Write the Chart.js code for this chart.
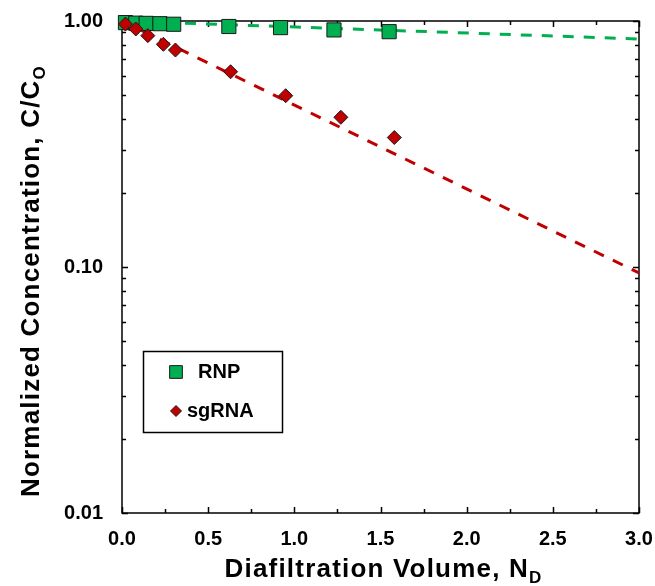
<!DOCTYPE html>
<html>
<head>
<meta charset="utf-8">
<script src="https://cdn.jsdelivr.net/npm/chart.js@4.4.3/dist/chart.umd.min.js"></script>
<style>
    html, body { margin: 0; padding: 0; background: #fff; }
    #wrap { position: relative; width: 655px; height: 586px; }
</style>
</head>
<body>
<div id="wrap"><canvas id="chart" width="655" height="586"></canvas></div>
<script>
const rnpVolume = [0.02, 0.08, 0.14, 0.22, 0.30, 0.62, 0.92, 1.23, 1.55];
const rnpConc = [0.985, 0.98, 0.978, 0.975, 0.97, 0.95, 0.94, 0.92, 0.905];
const sgVolume = [0.02, 0.08, 0.15, 0.24, 0.31, 0.63, 0.95, 1.27, 1.58];
const sgConc = [0.972, 0.928, 0.872, 0.804, 0.762, 0.622, 0.497, 0.406, 0.336];

// fitted first-order lines (straight on the log axis)
const rnpFitVolume = [0, 3];
const rnpFitConc = [1.0, 0.845];
const sgFitVolume = [0, 3];
const sgFitConc = [1.0, 0.0946];

const xTickValues = [0, 0.5, 1, 1.5, 2, 2.5, 3];
const yTickValues = [0.01, 0.1, 1];

const FONT = "'Liberation Sans', Arial, sans-serif";
const GREEN = '#00B050';
const RED = '#C00000';

const toPoints = (xs, ys) => xs.map((v, i) => ({x: v, y: ys[i]}));

// draws text + smaller lowered subscript, centred on 0
function drawSubText(ctx, main, sub, y0) {
    ctx.font = `bold 26px ${FONT}`;
    ctx.letterSpacing = '1.2px';
    const mw = ctx.measureText(main).width;
    ctx.font = `bold 17px ${FONT}`;
    const sw = ctx.measureText(sub).width;
    const start = -(mw + sw) / 2;
    ctx.font = `bold 26px ${FONT}`;
    ctx.fillText(main, start, y0);
    ctx.font = `bold 17px ${FONT}`;
    ctx.fillText(sub, start + mw, y0 + 6);
    ctx.letterSpacing = '0px';
}

// box, inward ticks, axis titles, legend
const framePlugin = {
    id: 'frame',
    beforeDatasetsDraw(chart) {
        const {ctx, chartArea: a, scales: {x, y}} = chart;
        ctx.save();
        ctx.strokeStyle = '#000';
        ctx.lineWidth = 1.5;
        ctx.strokeRect(a.left, a.top, a.right - a.left, a.bottom - a.top);

        ctx.beginPath();
        for (let i = 0; i <= 12; i++) {
            const px = Math.round(x.getPixelForValue(i * 0.25)) + 0.5;
            const len = i % 2 === 0 ? 6 : 4;
            ctx.moveTo(px, a.bottom); ctx.lineTo(px, a.bottom - len);
            ctx.moveTo(px, a.top); ctx.lineTo(px, a.top + len);
        }
        [0.01, 0.1].forEach(decade => {
            for (let m = 1; m <= 10; m++) {
                const py = Math.round(y.getPixelForValue(decade * m)) + 0.5;
                const len = (m === 1 || m === 10) ? 6 : 4;
                ctx.moveTo(a.left, py); ctx.lineTo(a.left + len, py);
                ctx.moveTo(a.right, py); ctx.lineTo(a.right - len, py);
            }
        });
        ctx.stroke();
        ctx.restore();
    },
    afterDraw(chart) {
        const {ctx, chartArea: a} = chart;
        ctx.save();
        ctx.fillStyle = '#000';
        ctx.textBaseline = 'alphabetic';

        ctx.translate((a.left + a.right) / 2 + 3, 0);
        drawSubText(ctx, 'Diafiltration Volume, N', 'D', 577);
        ctx.setTransform(1, 0, 0, 1, 0, 0);

        ctx.translate(39, 281);
        ctx.rotate(-Math.PI / 2);
        drawSubText(ctx, 'Normalized Concentration, C/C', 'O', 0);
        ctx.setTransform(1, 0, 0, 1, 0, 0);

        // legend
        ctx.fillStyle = '#fff';
        ctx.fillRect(143, 351, 139, 81);
        ctx.strokeStyle = '#000';
        ctx.lineWidth = 1.5;
        ctx.strokeRect(143.5, 351.5, 139, 81);

        ctx.strokeStyle = '#1a1a1a';
        ctx.lineWidth = 1;
        ctx.fillStyle = GREEN;
        Chart.helpers.drawPoint(ctx, {pointStyle: 'rect', radius: 9, borderWidth: 1}, 176, 372);
        ctx.fillStyle = RED;
        Chart.helpers.drawPoint(ctx, {pointStyle: 'rectRot', radius: 5.5, borderWidth: 1}, 176, 411);

        ctx.fillStyle = '#000';
        ctx.font = `bold 20px ${FONT}`;
        ctx.textBaseline = 'middle';
        ctx.fillText('RNP', 198, 372);
        ctx.fillText('sgRNA', 187, 411);
        ctx.restore();
    }
};

new Chart(document.getElementById('chart'), {
    type: 'scatter',
    data: {
        datasets: [
            {
                label: 'sgRNA',
                data: toPoints(sgVolume, sgConc),
                pointStyle: 'rectRot',
                pointRadius: 7,
                backgroundColor: RED,
                borderColor: '#1a1a1a',
                borderWidth: 1,
                clip: false
            },
            {
                label: 'RNP',
                data: toPoints(rnpVolume, rnpConc),
                pointStyle: 'rect',
                pointRadius: 10,
                backgroundColor: GREEN,
                borderColor: '#1a1a1a',
                borderWidth: 1,
                clip: false
            },
            {
                label: 'sgRNA fit',
                data: toPoints(sgFitVolume, sgFitConc),
                showLine: true,
                pointRadius: 0,
                borderColor: RED,
                borderWidth: 3,
                borderDash: [11, 10]
            },
            {
                label: 'RNP fit',
                data: toPoints(rnpFitVolume, rnpFitConc),
                showLine: true,
                pointRadius: 0,
                borderColor: GREEN,
                borderWidth: 3,
                borderDash: [11, 10]
            }
        ]
    },
    options: {
        responsive: false,
        animation: false,
        layout: {padding: {top: 21, right: 16, left: 0, bottom: 0}},
        plugins: {
            legend: {display: false},
            tooltip: {enabled: false}
        },
        scales: {
            x: {
                type: 'linear',
                min: 0,
                max: 3,
                afterBuildTicks: s => { s.ticks = xTickValues.map(v => ({value: v})); },
                afterFit: s => {
                    s.height = 73;
                    s.paddingLeft = 0; s.paddingRight = 0;
                },
                grid: {display: false},
                border: {display: false},
                ticks: {
                    color: '#000',
                    padding: 6,
                    maxRotation: 0,
                    autoSkip: false,
                    font: {family: FONT, size: 20, weight: 'bold'},
                    callback: v => Number(v).toFixed(1)
                }
            },
            y: {
                type: 'logarithmic',
                min: 0.01,
                max: 1,
                afterBuildTicks: s => { s.ticks = yTickValues.map(v => ({value: v})); },
                afterFit: s => {
                    s.width = 122;
                    s.paddingTop = 0; s.paddingBottom = 0;
                },
                grid: {display: false},
                border: {display: false},
                ticks: {
                    color: '#000',
                    padding: 11,
                    autoSkip: false,
                    font: {family: FONT, size: 20, weight: 'bold'},
                    callback: v => Number(v).toFixed(2)
                }
            }
        }
    },
    plugins: [framePlugin]
});
</script>
</body>
</html>
